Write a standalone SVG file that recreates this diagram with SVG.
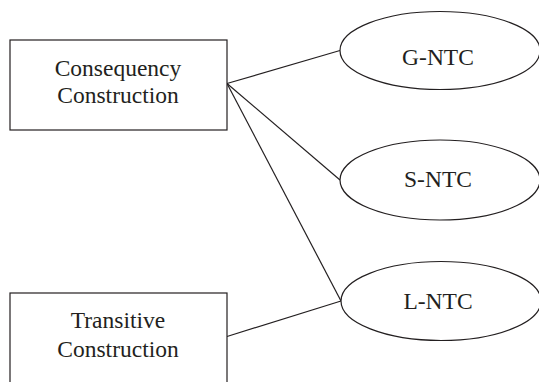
<svg xmlns="http://www.w3.org/2000/svg" width="539" height="382" viewBox="0 0 539 382">
<style>
.box{fill:#fff;stroke:#231f20;stroke-width:1.2}
.ell{fill:#fff;stroke:#231f20;stroke-width:1.2}
.t{font-family:"Liberation Serif","Times New Roman",serif;font-size:23.5px;fill:#231f20;text-anchor:middle}
.c{stroke:#231f20;stroke-width:1.2;fill:none}
</style>
<rect width="539" height="382" fill="#fff"/>
<g id="connectors">
<line class="c" x1="227" y1="83.5" x2="340" y2="50.5"/>
<line class="c" x1="227" y1="83.5" x2="340" y2="180"/>
<line class="c" x1="227" y1="83.5" x2="341" y2="301"/>
<line class="c" x1="227" y1="336.5" x2="341" y2="301"/>
</g>
<g id="consequency">
<rect class="box" x="10" y="40" width="217" height="90"/>
<text class="t" x="118" y="76">Consequency</text>
<text class="t" x="118" y="103">Construction</text>
</g>
<g id="transitive">
<rect class="box" x="10" y="293" width="217" height="100"/>
<text class="t" x="118" y="328">Transitive</text>
<text class="t" x="118" y="357">Construction</text>
</g>
<g id="gntc">
<ellipse class="ell" cx="440" cy="50.5" rx="100" ry="39"/>
<text class="t" x="438" y="65">G-NTC</text>
</g>
<g id="sntc">
<ellipse class="ell" cx="440" cy="180" rx="100" ry="40"/>
<text class="t" x="438" y="187">S-NTC</text>
</g>
<g id="lntc">
<ellipse class="ell" cx="441" cy="301" rx="100" ry="39.5"/>
<text class="t" x="438" y="309">L-NTC</text>
</g>
</svg>
